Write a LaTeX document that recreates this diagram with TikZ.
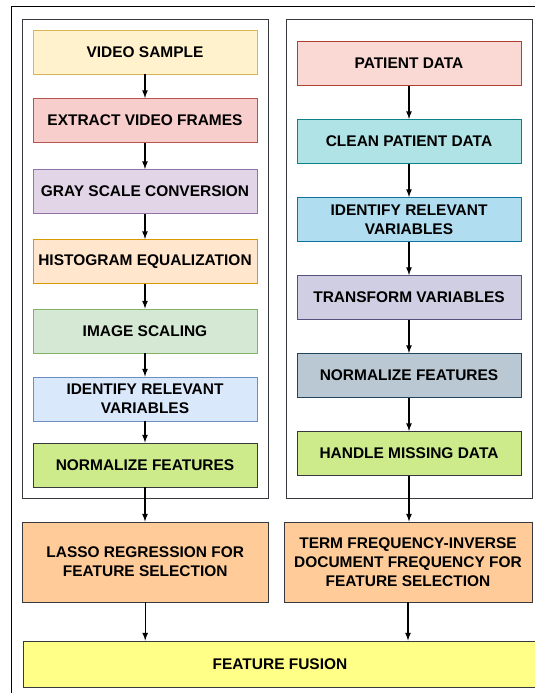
\documentclass[tikz,border=0pt]{standalone}
\usepackage{fontspec}
\setmainfont{Liberation Sans}
\usepackage{tikz}
\usetikzlibrary{arrows}

\definecolor{vsfill}{HTML}{FFF2CC}\definecolor{vsline}{HTML}{D6B656}
\definecolor{exfill}{HTML}{F8CECC}\definecolor{exline}{HTML}{B85450}
\definecolor{gsfill}{HTML}{E1D5E7}\definecolor{gsline}{HTML}{9673A6}
\definecolor{hefill}{HTML}{FFE6CC}\definecolor{heline}{HTML}{D79B00}
\definecolor{isfill}{HTML}{D5E8D4}\definecolor{isline}{HTML}{82B366}
\definecolor{irfill}{HTML}{DAE8FC}\definecolor{irline}{HTML}{6C8EBF}
\definecolor{nffill}{HTML}{CDEB8B}\definecolor{darkline}{HTML}{36393D}
\definecolor{pdfill}{HTML}{FAD9D5}\definecolor{pdline}{HTML}{AE4132}
\definecolor{clfill}{HTML}{B0E3E6}\definecolor{clline}{HTML}{0E8088}
\definecolor{idfill}{HTML}{B1DDF0}\definecolor{idline}{HTML}{10739E}
\definecolor{trfill}{HTML}{D0CEE2}\definecolor{trline}{HTML}{56517E}
\definecolor{nmfill}{HTML}{BAC8D3}\definecolor{nmline}{HTML}{23445D}
\definecolor{selfill}{HTML}{FFCC99}
\definecolor{fusfill}{HTML}{FFFF88}

\begin{document}
\begin{tikzpicture}
  \tikzset{PROC/.style={draw, line width=0.7pt, minimum height=1.1cm, minimum width=5.6cm, align=center, font=\fontsize{11}{13.5}\selectfont\bfseries} }
  \tikzset{SEL/.style={PROC, fill=selfill, draw=darkline, minimum height=2.0cm} }
  \tikzset{PANEL/.style={draw=darkline, line width=0.7pt} }
  \tikzset{FLOW/.style={->, >=latex, line width=0.9pt} }

  \useasboundingbox (0,0) rectangle (13.35,-17.325);

  % outer frame and the two panels
  \draw[line width=0.7pt] (0.29,-17.6) |- (13.6,-0.15);
  \draw[PANEL] (0.5625,-0.4875) rectangle (6.7,-12.45);
  \draw[PANEL] (7.15,-0.4875) rectangle (13.3,-12.45);

  % video branch
  \node[PROC, fill=vsfill, draw=vsline] (vid)   at (3.625,-1.3)    {VIDEO SAMPLE};
  \node[PROC, fill=exfill, draw=exline] (ext)   at (3.625,-3.0125) {EXTRACT VIDEO FRAMES};
  \node[PROC, fill=gsfill, draw=gsline] (gray)  at (3.625,-4.7875) {GRAY SCALE CONVERSION};
  \node[PROC, fill=hefill, draw=heline] (hist)  at (3.625,-6.5375) {HISTOGRAM EQUALIZATION};
  \node[PROC, fill=isfill, draw=isline] (scal)  at (3.625,-8.275)  {IMAGE SCALING};
  \node[PROC, fill=irfill, draw=irline] (idv1)  at (3.625,-9.975)  {IDENTIFY RELEVANT\\VARIABLES};
  \node[PROC, fill=nffill, draw=darkline] (norm1) at (3.625,-11.625) {NORMALIZE FEATURES};

  % patient branch
  \node[PROC, fill=pdfill, draw=pdline] (pat)   at (10.225,-1.5875)  {PATIENT DATA};
  \node[PROC, fill=clfill, draw=clline] (clean) at (10.225,-3.5375)  {CLEAN PATIENT DATA};
  \node[PROC, fill=idfill, draw=idline] (idv2)  at (10.225,-5.4875)  {IDENTIFY RELEVANT\\VARIABLES};
  \node[PROC, fill=trfill, draw=trline] (trans) at (10.225,-7.4375)  {TRANSFORM VARIABLES};
  \node[PROC, fill=nmfill, draw=nmline] (norm2) at (10.225,-9.3875)  {NORMALIZE FEATURES};
  \node[PROC, fill=nffill, draw=darkline] (miss) at (10.225,-11.3375) {HANDLE MISSING DATA};

  % selection and fusion
  \node[SEL, minimum width=6.14cm] (lasso) at (3.63,-14.05) {LASSO REGRESSION FOR\\FEATURE SELECTION};
  \node[SEL, minimum width=6.2cm]  (tfidf) at (10.2,-14.05) {TERM FREQUENCY-INVERSE\\DOCUMENT FREQUENCY FOR\\FEATURE SELECTION};
  \node[PROC, fill=fusfill, draw=darkline, minimum width=12.85cm, minimum height=1.15cm] (fuse) at (7.0,-16.6) {FEATURE FUSION};

  \draw[FLOW] (vid) -- (ext);
  \draw[FLOW] (ext) -- (gray);
  \draw[FLOW] (gray) -- (hist);
  \draw[FLOW] (hist) -- (scal);
  \draw[FLOW] (scal) -- (idv1);
  \draw[FLOW] (idv1) -- (norm1);
  \draw[FLOW] (norm1) -- (norm1 |- lasso.north);

  \draw[FLOW] (pat) -- (clean);
  \draw[FLOW] (clean) -- (idv2);
  \draw[FLOW] (idv2) -- (trans);
  \draw[FLOW] (trans) -- (norm2);
  \draw[FLOW] (norm2) -- (miss);
  \draw[FLOW] (miss) -- (miss |- tfidf.north);

  \draw[FLOW] (lasso) -- (lasso |- fuse.north);
  \draw[FLOW] (tfidf) -- (tfidf |- fuse.north);
\end{tikzpicture}
\end{document}
